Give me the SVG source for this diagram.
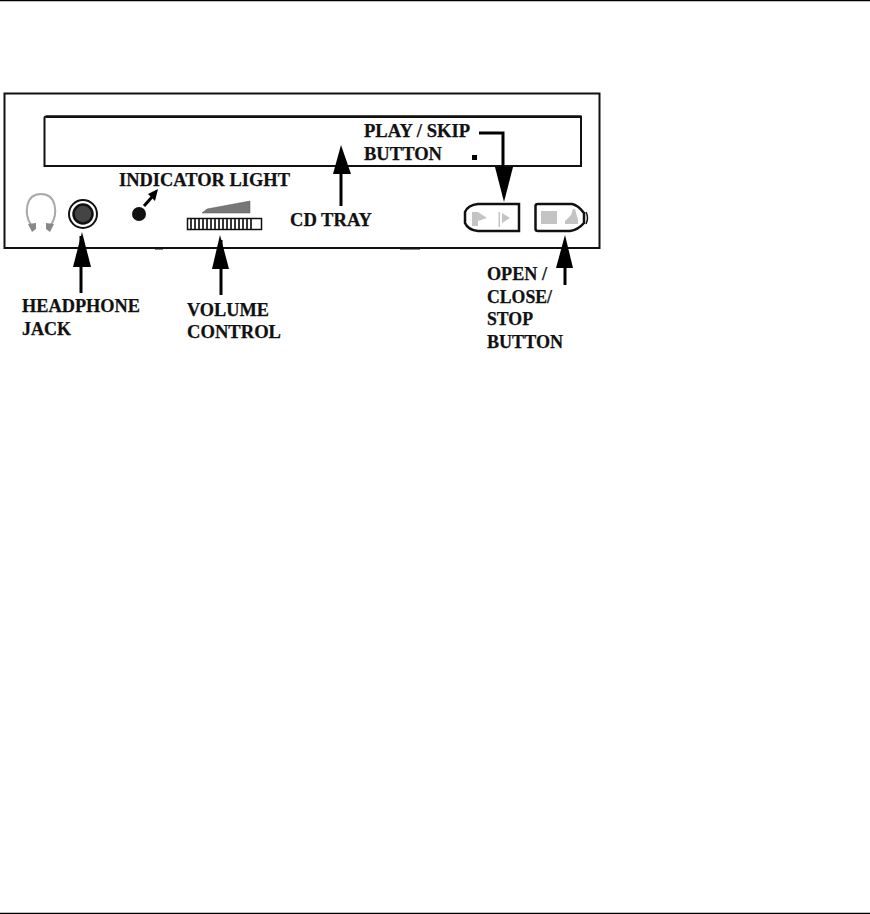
<svg xmlns="http://www.w3.org/2000/svg" width="870" height="914" viewBox="0 0 870 914">
<style>
.lbl{font-family:"Liberation Serif","Times New Roman",serif;font-weight:bold;font-size:18px;fill:#111;stroke:#111;stroke-width:.25}
.ln{fill:none;stroke:#111}
.btn{fill:#fff;stroke:#111;stroke-width:2.500}
.gl{fill:#c4c4c4}
.conn{fill:none;stroke:#000;stroke-width:3}
.head{fill:#000}
</style>
<rect width="870" height="914" fill="#fff"/>
<g id="page-rules">
<line x1="0" y1="0.500" x2="870" y2="0.500" stroke="#000" stroke-width="1.500"/>
<line x1="0" y1="913.500" x2="870" y2="913.500" stroke="#000" stroke-width="1.500"/>
</g>
<g id="drive-body">
<rect class="ln" x="4.500" y="93.500" width="595" height="154.500" stroke-width="2"/>
<path class="ln" stroke-width="2.500" d="M155 248.300H163M400 248.300H420"/>
</g>
<g id="cd-tray-slot">
<path class="ln" d="M44.500 118 Q44.500 116.500 46 116.500 H581 V166 H44.500 Z" stroke-width="2"/>
<path class="ln" d="M46 116.800 H581" stroke-width="2.500"/>
</g>
<g id="headphone-icon">
<path d="M31 225 C24 214 25 194 41 194 C57 194 58 214 51 225" fill="none" stroke="#aaa" stroke-width="2"/>
<path d="M28 224 L36 223 L36 229 L32 232 Z M54 224 L46 223 L46 229 L50 232 Z" fill="#888"/>
</g>
<g id="headphone-jack">
<circle cx="83" cy="214" r="14" fill="#fff" stroke="#111" stroke-width="2"/>
<circle cx="83" cy="214" r="9.500" fill="#444" stroke="#111" stroke-width="2.500"/>
</g>
<g id="indicator-light"><circle cx="139" cy="214" r="7" fill="#111"/></g>
<g id="volume-control">
<path d="M202 213 L207 209 L250 201 V213 Z" fill="#777" stroke="#555" stroke-width=".5"/>
<rect x="187.500" y="218.500" width="74" height="11" fill="#fff" stroke="#111" stroke-width="1.500"/>
<path d="M191 219V229M195 219V229M199 219V229M203 219V229M207 219V229M211 219V229M215 219V229M219 219V229M223 219V229M227 219V229M231 219V229M235 219V229M239 219V229M243 219V229M247 219V229M251 219V229" stroke="#222" stroke-width="1.800"/>
</g>
<g id="play-skip-button">
<path class="btn" d="M519 204 H478 Q468 205 465 212 V223 Q468 230 478 231 H519 Z"/>
<path class="gl" d="M472 212 L478 212 L487 218 L478 221 V226 H472 Z M502 213 L510 218 L502 223 Z"/>
<rect class="gl" x="498.500" y="212" width="1.500" height="15"/>
</g>
<g id="open-close-stop-button">
<path class="btn" d="M535.500 206 Q535.500 204 538 204 H572 Q578 205 584 213 V223 Q578 230 570 231 H538 Q535.500 231 535.500 229 Z"/>
<path d="M586 212 Q589 218 586 224" fill="none" stroke="#111" stroke-width="1.500"/>
<rect class="gl" x="541" y="211" width="16" height="13"/>
<path class="gl" d="M565 224 V221 L571 215 L573 209 H575 L578 220 V224 Z"/>
</g>
<g id="connectors">
<path class="conn" d="M81 293 V236"/><path class="head" d="M82 232 L91 267 H73 Z"/>
<path class="conn" d="M221 295 V240"/><path class="head" d="M220 235 L229 269 H212 Z"/>
<path class="conn" d="M341 206 V165"/><path class="head" d="M341 145 L351 174 H333 Z"/>
<path class="conn" d="M479 133 H503 V175" stroke-width="4"/><path class="head" d="M504 202 L495 167 H513 Z"/>
<path class="conn" d="M565 285 V250"/><path class="head" d="M565 235 L573 268 H556 Z"/>
<path class="conn" d="M144 206 L152 197" stroke-width="2"/><path class="head" d="M158 189 L155 201 L148 194 Z"/>
<rect class="head" x="472" y="155" width="5" height="5"/>
</g>
<g id="labels">
<text class="lbl" x="119" y="186" textLength="171" lengthAdjust="spacingAndGlyphs">INDICATOR LIGHT</text>
<text class="lbl" x="364" y="137" textLength="106" lengthAdjust="spacingAndGlyphs">PLAY / SKIP</text>
<text class="lbl" x="364" y="160" textLength="78" lengthAdjust="spacingAndGlyphs">BUTTON</text>
<text class="lbl" x="290" y="226" textLength="82" lengthAdjust="spacingAndGlyphs">CD TRAY</text>
<text class="lbl" x="22" y="312" textLength="118" lengthAdjust="spacingAndGlyphs">HEADPHONE</text>
<text class="lbl" x="22" y="335" textLength="49" lengthAdjust="spacingAndGlyphs">JACK</text>
<text class="lbl" x="187" y="316" textLength="82" lengthAdjust="spacingAndGlyphs">VOLUME</text>
<text class="lbl" x="187" y="338" textLength="94" lengthAdjust="spacingAndGlyphs">CONTROL</text>
<text class="lbl" x="487" y="280" textLength="60" lengthAdjust="spacingAndGlyphs">OPEN /</text>
<text class="lbl" x="487" y="303" textLength="65" lengthAdjust="spacingAndGlyphs">CLOSE/</text>
<text class="lbl" x="487" y="325" textLength="46" lengthAdjust="spacingAndGlyphs">STOP</text>
<text class="lbl" x="487" y="348" textLength="76" lengthAdjust="spacingAndGlyphs">BUTTON</text>
</g>
</svg>
